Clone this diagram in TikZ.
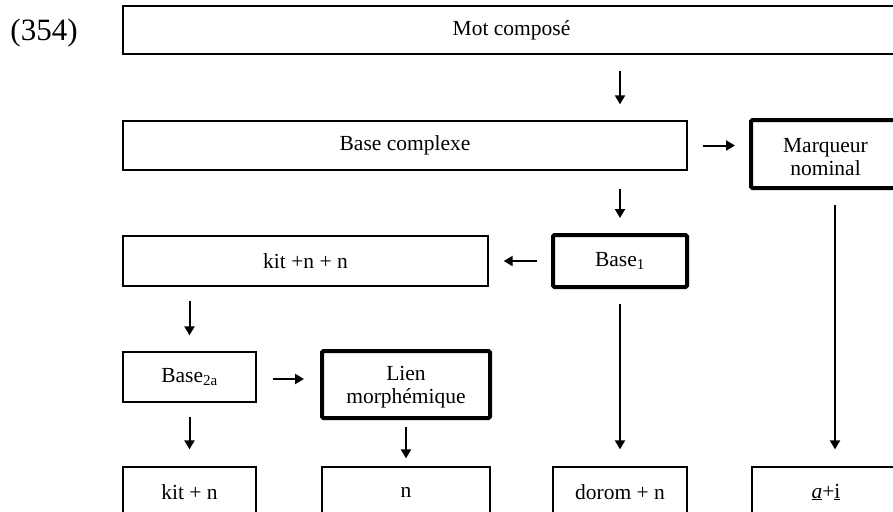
\documentclass[tikz,border=0pt]{standalone}
\usepackage{fontspec}
\setmainfont{Liberation Serif}
\usetikzlibrary{arrows.meta}
\newcommand\lowered[2]{\raisebox{-#1}[\height][\depth]{\begin{tabular}{@{}c@{}}#2\end{tabular}}}
\begin{document}
\begin{tikzpicture}[x=1pt,y=-1pt,
    box/.style 2 args={draw,line width=1.3pt,minimum width=#1,minimum height=#2,inner sep=0pt,
        align=center,font=\fontsize{21.5}{23}\selectfont},
    boldbox/.style 2 args={box={#1}{#2},line width=4pt,rounded corners=1.5pt},
    arr/.style={-{Triangle[length=9pt,width=10pt]},line width=2pt}]
    \path [use as bounding box,clip] (0,0) rectangle (893,511);
    \node (num) at (44,33) {\fontsize{31}{34}\selectfont (354)};
    \node [box={777}{48}] (mot) at (511.5,30) {Mot composé};
    \node [box={564}{49}] (cplx) at (405,145.5) {Base complexe};
    \node [boldbox={149}{68}] (marq) at (825.5,154) {\lowered{5pt}{Marqueur\\nominal}};
    \node [boldbox={134}{52}] (base1) at (620,261) {Base\textsubscript{1}};
    \node [box={365}{50}] (kitnn) at (305.5,261) {kit +n + n};
    \node [box={133}{50}] (base2a) at (189.5,377) {Base\textsubscript{2a}};
    \node [boldbox={168}{67}] (lien) at (406,384.5) {\lowered{3pt}{Lien\\morphémique}};
    \node [box={133}{50}] (kitn) at (189.5,492) {kit + n};
    \node [box={168}{50}] (n) at (406,492) {n};
    \node [box={134}{50}] (dorom) at (620,492) {dorom + n};
    \node [box={148}{50}] (ai) at (826,492) {\underline{\textit{a}}+\underline{i}};
    % arrows
    \draw [arr,shorten <=16pt,shorten >=16pt] (mot.south -| base1) -- (cplx.north -| base1);
    \draw [arr,shorten <=15pt,shorten >=14pt] (cplx.east) -- (cplx.east -| marq.west);
    \draw [arr,shorten <=18pt,shorten >=15pt] (cplx.south -| base1) -- (base1.north);
    \draw [arr,shorten <=14pt,shorten >=15pt] (base1.west) -- (kitnn.east);
    \draw [arr,shorten <=14pt,shorten >=16pt] (kitnn.south -| base2a) -- (base2a.north);
    \draw [arr,shorten <=15pt,shorten >=17pt] (base1.south) -- (dorom.north);
    \draw [arr,shorten <=15pt,shorten >=17pt] ([xshift=9.5pt]marq.south) -- ([xshift=9pt]ai.north);
    \draw [arr,shorten <=16pt,shorten >=16pt] ([yshift=-2pt]base2a.east) -- ([yshift=-2pt]base2a.east -| lien.west);
    \draw [arr,shorten <=14pt,shorten >=17pt] (base2a.south) -- (kitn.north);
    \draw [arr,shorten <=7pt,shorten >=8pt] (lien.south) -- (n.north);
\end{tikzpicture}
\end{document}
